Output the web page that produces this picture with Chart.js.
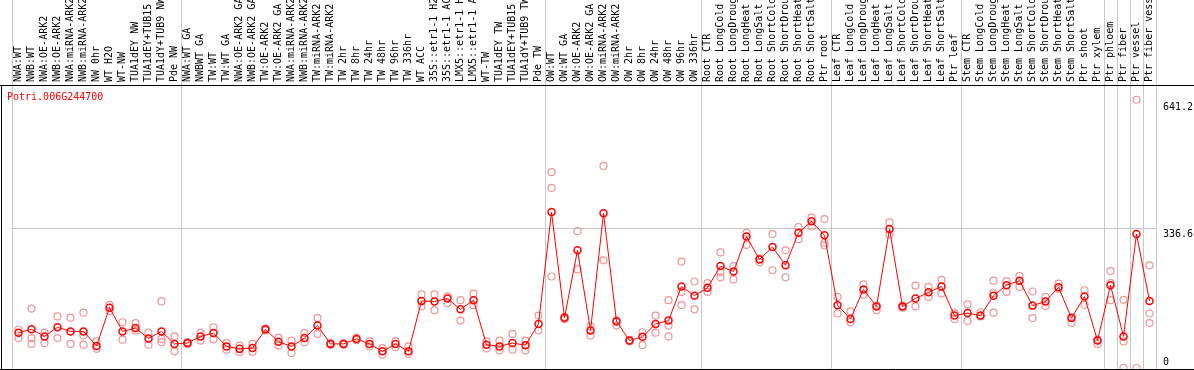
<!DOCTYPE html>
<html>
<head>
<meta charset="utf-8">
<script src="https://cdn.jsdelivr.net/npm/chart.js@4/dist/chart.umd.min.js"></script>
<style>
  html, body { margin: 0; padding: 0; background: #fff; }
  #wrap { width: 1194px; height: 370px; position: relative; }
</style>
</head>
<body>
<div id="wrap"><canvas id="expr_chart"></canvas></div>
<script>
const geneId = "Potri.006G244700";

const sampleLabels = [
  "NWA:WT", "NWB:WT", "NWA:OE-ARK2", "NWB:OE-ARK2", "NWA:miRNA-ARK2", "NWB:miRNA-ARK2",
  "NW 0hr", "WT H2O", "WT-NW", "TUA1dEY NW", "TUA1dEY+TUB15 NW", "TUA1dY+TUB9 NW", "Pde NW",
  "NWA:WT GA", "NWBWT GA", "TW:WT", "TW:WT GA", "NWA:OE-ARK2 GA", "NWB:OE-ARK2 GA",
  "TW:OE-ARK2", "TW:OE-ARK2 GA", "NWA:miRNA-ARK2", "NWB:miRNA-ARK2", "TW:miRNA-ARK2",
  "TW:miRNA-ARK2", "TW 2hr", "TW 8hr", "TW 24hr", "TW 48hr", "TW 96hr", "TW 336hr",
  "WT ACC", "35S::etr1-1 H2O", "35S::etr1-1 ACC", "LMX5::etr1-1 H2O", "LMX5::etr1-1 ACC",
  "WT-TW", "TUA1dEY TW", "TUA1dEY+TUB15 TW", "TUA1dY+TUB9 TW", "Pde TW",
  "OW:WT", "OW:WT GA", "OW:OE-ARK2", "OW:OE-ARK2 GA", "OW:miRNA-ARK2", "OW:miRNA-ARK2",
  "OW 2hr", "OW 8hr", "OW 24hr", "OW 48hr", "OW 96hr", "OW 336hr",
  "Root CTR", "Root LongCold", "Root LongDrought", "Root LongHeat", "Root LongSalt",
  "Root ShortCold", "Root ShortDrought", "Root ShortHeat", "Root ShortSalt", "Ptr root",
  "Leaf CTR", "Leaf LongCold", "Leaf LongDrought", "Leaf LongHeat", "Leaf LongSalt",
  "Leaf ShortCold", "Leaf ShortDrought", "Leaf ShortHeat", "Leaf ShortSalt", "Ptr leaf",
  "Stem CTR", "Stem LongCold", "Stem LongDrought", "Stem LongHeat", "Stem LongSalt",
  "Stem ShortCold", "Stem ShortDrought", "Stem ShortHeat", "Stem ShortSalt", "Ptr shoot",
  "Ptr xylem", "Ptr phloem", "Ptr fiber", "Ptr vessel", "Ptr fiber vessel"
];

// mean expression per sample (red line)
const meanValues = [
  85, 93, 76, 98, 88, 88, 53, 145, 88, 96, 71, 88, 58,
  60, 76, 84, 52, 46, 48, 93, 63, 52, 72, 102, 58, 58, 70, 58, 40, 58, 40,
  161, 160, 167, 141, 163, 56, 52, 60, 55, 106,
  375, 121, 283, 90, 372, 112, 66, 75, 106, 114, 196, 174,
  193, 245, 232, 316, 261, 291, 247, 325, 353, 319,
  151, 118, 189, 148, 334, 148, 167, 182, 196, 126,
  132, 126, 174, 199, 210, 150, 160, 194, 120, 172,
  66, 199, 76, 322, 161
];

// replicates (pink circles)
const repHigh = [
  92, 143, 85, 124, 121, 133, 64, 152, 110, 108, 85, 160, 76,
  62, 85, 98, 60, 54, 58, 95, 73, 66, 84, 120, 60, 60, 73, 64, 48, 64, 52,
  177, 177, 172, 163, 179, 64, 66, 82, 66, 126,
  471, 123, 329, 100, 486, 115, 67, 86, 126, 163, 256, 208,
  204, 278, 245, 325, 263, 322, 283, 339, 362, 358,
  171, 136, 201, 150, 350, 150, 198, 195, 212, 132,
  153, 134, 210, 209, 221, 184, 171, 203, 122, 187,
  68, 233, 164, 645, 247
];
const repLow = [
  72, 72, 60, 72, 58, 78, 46, 137, 68, 90, 56, 70, 40,
  58, 66, 69, 44, 38, 39, 90, 54, 36, 62, 82, 56, 56, 67, 52, 32, 50, 34,
  148, 139, 156, 114, 151, 47, 42, 44, 42, 90,
  433, 117, 237, 78, 259, 102, 64, 55, 85, 102, 183, 141,
  183, 231, 213, 296, 254, 235, 218, 310, 340, 301,
  131, 110, 176, 139, 321, 145, 148, 171, 179, 118,
  113, 124, 180, 183, 195, 120, 149, 190, 109, 152,
  58, 204, 64, 0, 131
];
const repExtra = [
  null, 58, null, null, null, 56, null, null, null, null, null, 62, null,
  null, null, null, null, null, null, null, null, null, null, null, null, null, null, null, null, null, null,
  null, null, null, null, null, null, null, null, null, null,
  220, null, null, null, null, null, null, null, null, 76, 151, null,
  null, 218, null, null, null, null, null, null, null, 295,
  null, null, null, null, null, null, null, null, null, null,
  null, null, 133, null, null, null, null, null, null, null,
  null, 163, 0, null, 108
];

const yTickValues = [0, 336.6, 641.2];
// grid lines sit before these sample indexes (the right edge line has no index)
const groupStarts = [0, 13, 41, 53, 63, 73, 84, 85, 86, 87];

const monoFont = { family: "'DejaVu Sans Mono', monospace", size: 10 };

const framePlugin = {
  id: 'frame',
  afterDraw(chart) {
    const { ctx, chartArea } = chart;
    ctx.save();
    ctx.strokeStyle = '#000';
    ctx.lineWidth = 1;
    ctx.beginPath();
    ctx.moveTo(0, chartArea.top + 0.5);
    ctx.lineTo(chart.width, chartArea.top + 0.5);
    ctx.moveTo(0, chartArea.bottom + 0.5);
    ctx.lineTo(chart.width, chartArea.bottom + 0.5);
    ctx.moveTo(1.5, chartArea.top);
    ctx.lineTo(1.5, chartArea.bottom);
    ctx.stroke();

    // gene id in the top left corner
    ctx.fillStyle = '#ff0000';
    ctx.font = "10px 'DejaVu Sans Mono', monospace";
    ctx.textBaseline = 'middle';
    ctx.fillText(geneId, 7, chartArea.top + 12);
    ctx.restore();
  }
};

function repDataset(values) {
  return {
    data: values,
    showLine: false,
    clip: false,
    pointRadius: 3.5,
    pointBorderWidth: 1.2,
    pointBorderColor: '#ee9696',
    pointBackgroundColor: 'rgba(0,0,0,0)',
  };
}

const ctx = document.getElementById('expr_chart').getContext('2d');
new Chart(ctx, {
  type: 'line',
  data: {
    labels: sampleLabels,
    datasets: [
      {
        data: meanValues,
        borderColor: '#ff0000',
        borderWidth: 1,
        tension: 0,
        clip: false,
        pointRadius: 3.5,
        pointBorderWidth: 1.5,
        pointBorderColor: '#ff0000',
        pointBackgroundColor: 'rgba(0,0,0,0)',
      },
      repDataset(repHigh),
      repDataset(repLow),
      repDataset(repExtra),
    ]
  },
  options: {
    responsive: true,
    maintainAspectRatio: false,
    animation: false,
    events: [],
    layout: { autoPadding: false, padding: { left: 12, right: 0, top: 0, bottom: 1 } },
    plugins: {
      legend: { display: false },
      tooltip: { enabled: false },
    },
    scales: {
      x: {
        position: 'top',
        offset: true,
        border: { display: false },
        grid: {
          offset: true,
          drawOnChartArea: true,
          drawTicks: true,
          tickLength: 85,
          lineWidth: 1,
          color: (c) => (c.index === undefined || groupStarts.includes(c.index)) ? '#c8c8c8' : 'rgba(0,0,0,0)',
          tickColor: (c) => (c.index === undefined || groupStarts.includes(c.index)) ? '#c8c8c8' : 'rgba(0,0,0,0)',
        },
        ticks: {
          autoSkip: false,
          minRotation: 90,
          maxRotation: 90,
          padding: -82,
          labelOffset: 12,
          color: '#000',
          font: monoFont,
        },
        afterFit(scale) {
          scale.height = 85;
          scale.paddingLeft = 0;
          scale.paddingRight = 0;
        },
      },
      y: {
        position: 'right',
        min: -2.4,
        max: 680.5,
        border: { display: false },
        grid: {
          drawTicks: false,
          tickLength: 0,
          color: (c) => (c.tick && c.tick.value === 336.6) ? '#c8c8c8' : 'rgba(0,0,0,0)',
        },
        ticks: {
          padding: 7,
          color: '#000',
          font: monoFont,
          callback: (value) => value === 0 ? ['0', ''] : ['', String(value)],
        },
        afterBuildTicks(scale) {
          scale.ticks = yTickValues.map((v) => ({ value: v }));
        },
        afterFit(scale) {
          scale.width = 38;
          scale.paddingTop = 0;
          scale.paddingBottom = 0;
        },
      },
    },
  },
  plugins: [framePlugin],
});
</script>
</body>
</html>
